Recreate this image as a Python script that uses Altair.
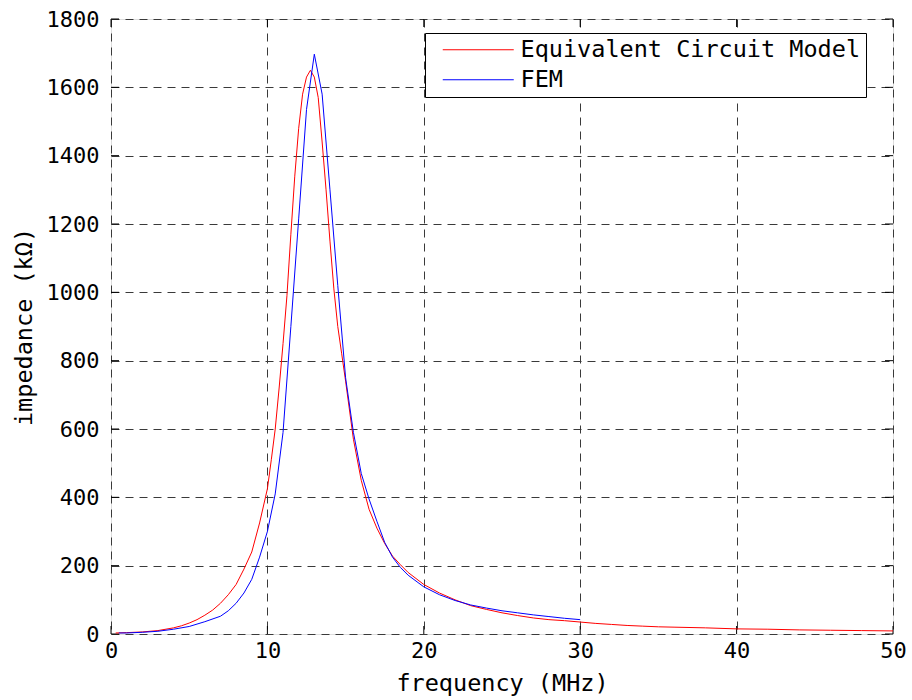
import altair as alt
import pandas as pd

# Equivalent Circuit Model (red)
ecm_freq = [0.3, 1, 2, 3, 4, 4.5, 5, 5.5, 6, 6.5, 7, 7.5, 8, 8.5, 9, 9.5, 10, 10.25,
            10.5, 10.75, 11, 11.25, 11.5, 11.75, 12, 12.25, 12.5, 12.75, 13, 13.25,
            13.5, 13.75, 14, 14.25, 14.5, 14.75, 15, 15.5, 16, 16.5, 17, 17.5, 18,
            18.5, 19, 20, 21, 22, 23, 24, 25, 26, 27, 28, 29, 30, 31, 32, 33, 34, 35,
            36, 38, 40, 42, 44, 46, 48, 50]
ecm_imp = [3, 4, 6, 10, 18, 24, 32, 42, 55, 70, 90, 115, 145, 190, 240, 325, 425, 510,
           600, 720, 850, 990, 1170, 1340, 1480, 1580, 1630, 1650, 1630, 1570,
           1440, 1300, 1150, 1010, 900, 820, 740, 570, 450, 365, 310, 265, 228,
           203, 180, 145, 120, 100, 83, 72, 62, 54, 47, 42, 39, 35, 31, 28, 25, 23, 21,
           20, 18, 15, 14, 12, 11, 10, 9]

# FEM (blue)
fem_freq = [0.5, 1, 2, 3, 4, 5, 6, 7, 7.5, 8, 8.5, 9, 9.5, 10, 10.5, 11, 11.5, 12,
            12.5, 13, 13.5, 14, 14.5, 15, 15.5, 16, 16.5, 17, 17.5, 18, 18.5, 19, 20,
            21, 22, 23, 24, 25, 26, 27, 28, 29, 30]
fem_imp = [3, 3, 5, 8, 14, 22, 36, 52, 68, 90, 120, 160, 225, 300, 410, 590, 900, 1215,
           1535, 1697, 1580, 1300, 1020, 750, 590, 470, 395, 330, 268, 225, 195, 172, 138,
           115, 98, 85, 76, 68, 62, 56, 51, 46, 42]

series_names = ["Equivalent Circuit Model", "FEM"]
series_colors = ["#ff0000", "#0000ff"]

x_ticks = [0, 10, 20, 30, 40, 50]
y_ticks = [0, 200, 400, 600, 800, 1000, 1200, 1400, 1600, 1800]

df = pd.concat([
    pd.DataFrame({"f": ecm_freq, "z": ecm_imp, "s": series_names[0], "o": range(len(ecm_freq))}),
    pd.DataFrame({"f": fem_freq, "z": fem_imp, "s": series_names[1], "o": range(len(fem_freq))}),
])

W, H = 782, 615
FONT = "DejaVu Sans Mono"

xs = alt.Scale(domain=[0, 50], nice=False)
ys = alt.Scale(domain=[0, 1800], nice=False)

lines = alt.Chart(df).mark_line(strokeWidth=1).encode(
    x=alt.X("f:Q", scale=xs, title="frequency (MHz)",
            axis=alt.Axis(values=x_ticks, format="d", labelFlush=False)),
    y=alt.Y("z:Q", scale=ys, title="impedance (kΩ)",
            axis=alt.Axis(values=y_ticks, format="d", labelFlush=False)),
    color=alt.Color("s:N", sort=series_names,
                    scale=alt.Scale(domain=series_names, range=series_colors),
                    legend=alt.Legend(
                        title=None, orient="none", legendX=314, legendY=14,
                        symbolType="M0.1,0H7.2", symbolSize=400,
                        symbolStrokeWidth=1, labelOffset=67, labelLimit=600,
                        labelFont=FONT, labelFontSize=23.5, labelColor="#000",
                        padding=5, rowPadding=5,
                        strokeColor="#000", fillColor="#fff")),
    order="o:Q",
)

xt = pd.DataFrame({"v": x_ticks})
yt = pd.DataFrame({"v": y_ticks})
TL = 8
tick_b = alt.Chart(xt).mark_rule(color="#000", strokeWidth=1).encode(
    x=alt.X("v:Q", scale=xs), y=alt.value(H), y2=alt.value(H - TL))
tick_t = alt.Chart(xt).mark_rule(color="#000", strokeWidth=1).encode(
    x=alt.X("v:Q", scale=xs), y=alt.value(0), y2=alt.value(TL))
tick_l = alt.Chart(yt).mark_rule(color="#000", strokeWidth=1).encode(
    y=alt.Y("v:Q", scale=ys), x=alt.value(0), x2=alt.value(TL))
tick_r = alt.Chart(yt).mark_rule(color="#000", strokeWidth=1).encode(
    y=alt.Y("v:Q", scale=ys), x=alt.value(W), x2=alt.value(W - TL))

chart = alt.layer(tick_b, tick_t, tick_l, tick_r, lines).properties(
    width=W, height=H,
    autosize=alt.AutoSizeParams(type="none"),
    padding={"left": 111, "top": 19, "right": 19, "bottom": 66},
).configure_view(
    stroke="#000", strokeWidth=1.5, fill="#fff"
).configure(background="#fff").configure_axis(
    domain=False, ticks=False,
    grid=True, gridColor="#3a3a3a", gridDash=[8, 6], gridWidth=1,
    labelFont=FONT, labelFontSize=22, labelColor="#000",
    titleFont=FONT, titleFontSize=23.5, titleFontWeight="normal", titleColor="#000",
).configure_axisX(labelPadding=6, titlePadding=10).configure_axisY(labelPadding=12, titlePadding=10)

chart.save("out.html", embed_options={"renderer": "svg", "actions": False})
